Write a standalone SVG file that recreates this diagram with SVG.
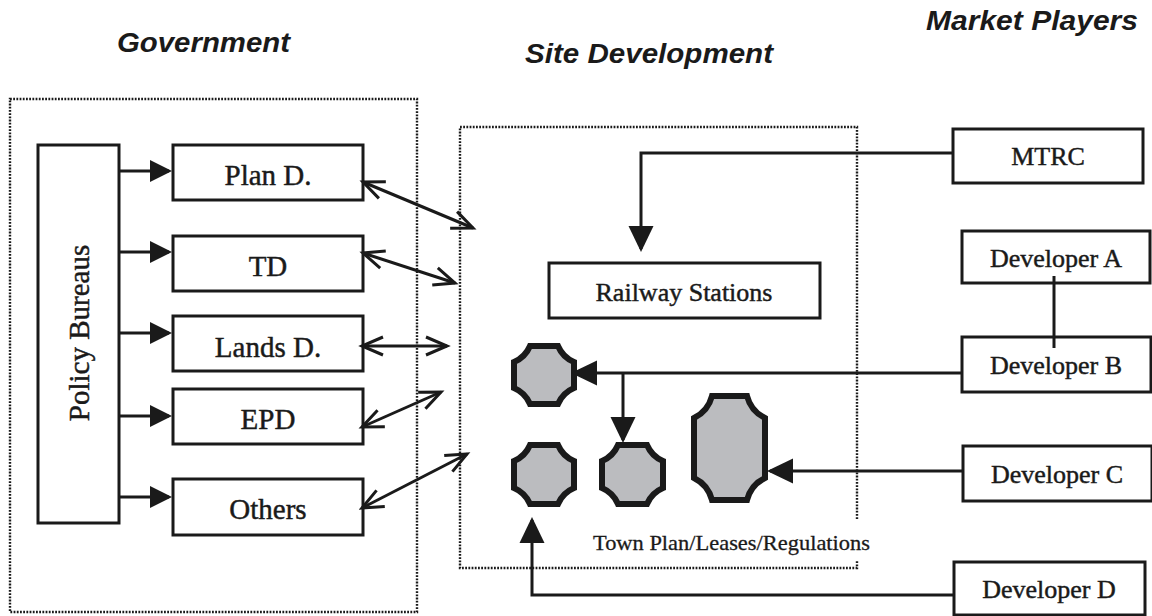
<svg xmlns="http://www.w3.org/2000/svg" width="1152" height="616" viewBox="0 0 1152 616">
  <style>
    .title { font-family: "Liberation Sans", Arial, sans-serif; font-weight: bold; font-style: italic; font-size: 28px; fill: #1a1a1a; }
    .lbl { font-family: "Liberation Serif", "Times New Roman", serif; fill: #1a1a1a; stroke: #1a1a1a; stroke-width: 0.45; text-anchor: middle; }
    .gov { font-size: 29px; }
    .mkt { font-size: 26px; }
    .small { font-size: 22px; stroke-width: 0.3; }
    .box { fill: #ffffff; stroke: #1a1a1a; stroke-width: 3; }
    .zone { fill: none; stroke: #1a1a1a; stroke-width: 2.4; stroke-dasharray: 1.8 1.4; }
    .site { fill: #bbbcbf; stroke: #1a1a1a; stroke-width: 6; stroke-linejoin: miter; }
    .wire { fill: none; stroke: #1a1a1a; stroke-width: 3; }
    .fwd { marker-end: url(#solid); }
    .fwd-s { marker-end: url(#solidSmall); }
    .both { marker-start: url(#open); marker-end: url(#open); }
  </style>
  <defs>
    <marker id="solid" markerUnits="userSpaceOnUse" viewBox="-27 -14 30 28" markerWidth="30" markerHeight="28" refX="-3" refY="0" orient="auto">
      <path d="M-26,-12.5 L0,0 L-26,12.5 Z" fill="#1a1a1a"/>
    </marker>
    <marker id="solidSmall" markerUnits="userSpaceOnUse" viewBox="-24 -12 26 24" markerWidth="26" markerHeight="24" refX="-3" refY="0" orient="auto">
      <path d="M-22,-11 L0,0 L-22,11 Z" fill="#1a1a1a"/>
    </marker>
    <marker id="open" markerUnits="userSpaceOnUse" viewBox="-26 -14 30 28" markerWidth="30" markerHeight="28" refX="0" refY="0" orient="auto-start-reverse">
      <path d="M-21,-9 L0,0 L-21,9" fill="none" stroke="#1a1a1a" stroke-width="3" stroke-linejoin="miter"/>
    </marker>
  </defs>

  <rect width="1152" height="616" fill="#ffffff"/>

  <!-- column headings -->
  <g id="headings">
    <text class="title" x="117" y="52" textLength="173" lengthAdjust="spacingAndGlyphs">Government</text>
    <text class="title" x="525" y="63" textLength="248" lengthAdjust="spacingAndGlyphs">Site Development</text>
    <text class="title" x="926" y="30" textLength="212" lengthAdjust="spacingAndGlyphs">Market Players</text>
  </g>

  <!-- dotted zone outlines -->
  <g id="zones">
    <rect id="government-zone" class="zone" x="10" y="99" width="407" height="513"/>
    <path id="site-zone" class="zone" d="M857,519 V127 H460 V568 H857 V560"/>
  </g>

  <!-- government side -->
  <g id="policy-bureaus">
    <rect class="box" x="38" y="145" width="81" height="378"/>
    <text class="lbl gov" transform="translate(89,333) rotate(-90)">Policy Bureaus</text>
  </g>
  <g id="plan-d">
    <rect class="box" x="173" y="145" width="190" height="55"/>
    <text class="lbl gov" x="268" y="185">Plan D.</text>
  </g>
  <g id="td">
    <rect class="box" x="173" y="236" width="190" height="55"/>
    <text class="lbl gov" x="268" y="276">TD</text>
  </g>
  <g id="lands-d">
    <rect class="box" x="173" y="316" width="190" height="55"/>
    <text class="lbl gov" x="268" y="357">Lands D.</text>
  </g>
  <g id="epd">
    <rect class="box" x="173" y="389" width="190" height="55"/>
    <text class="lbl gov" x="268" y="429">EPD</text>
  </g>
  <g id="others">
    <rect class="box" x="173" y="479" width="190" height="56"/>
    <text class="lbl gov" x="268" y="519">Others</text>
  </g>

  <!-- site development -->
  <g id="railway-stations">
    <rect class="box" x="549" y="263" width="271" height="55"/>
    <text class="lbl mkt" x="684" y="301">Railway Stations</text>
  </g>
  <g id="site-1">
    <path class="site" d="M530,346 H558 A30,30 0 0 0 574,362 V388 A30,30 0 0 0 558,404 H530 A30,30 0 0 0 514,388 V362 A30,30 0 0 0 530,346 Z"/>
  </g>
  <g id="site-2">
    <path class="site" d="M530,445 H558 A30,30 0 0 0 574,461 V488 A30,30 0 0 0 558,504 H530 A30,30 0 0 0 514,488 V461 A30,30 0 0 0 530,445 Z"/>
  </g>
  <g id="site-3">
    <path class="site" d="M618,445 H647 A30,30 0 0 0 663,461 V488 A30,30 0 0 0 647,504 H618 A30,30 0 0 0 602,488 V461 A30,30 0 0 0 618,445 Z"/>
  </g>
  <g id="site-4">
    <path class="site" d="M712,396 H747 A34,34 0 0 0 765,418 V478 A34,34 0 0 0 747,500 H712 A34,34 0 0 0 694,478 V418 A34,34 0 0 0 712,396 Z"/>
  </g>
  <g id="town-plan-label">
    <text class="lbl small" x="593" y="550" textLength="277" lengthAdjust="spacingAndGlyphs" style="text-anchor:start">Town Plan/Leases/Regulations</text>
  </g>

  <!-- market players -->
  <g id="mtrc">
    <rect class="box" x="953" y="129" width="190" height="54"/>
    <text class="lbl mkt" x="1048" y="165">MTRC</text>
  </g>
  <g id="developer-a">
    <rect class="box" x="962" y="231" width="188" height="52"/>
    <text class="lbl mkt" x="1056" y="267">Developer A</text>
  </g>
  <g id="developer-b">
    <rect class="box" x="962" y="337" width="189" height="55"/>
    <text class="lbl mkt" x="1056" y="374">Developer B</text>
  </g>
  <g id="developer-c">
    <rect class="box" x="963" y="446" width="189" height="55"/>
    <text class="lbl mkt" x="1057" y="483">Developer C</text>
  </g>
  <g id="developer-d">
    <rect class="box" x="954" y="562" width="191" height="53"/>
    <text class="lbl mkt" x="1049" y="598">Developer D</text>
  </g>

  <!-- connectors -->
  <g id="connectors">
    <!-- policy bureaus to departments -->
    <line class="wire fwd-s" x1="119" y1="171" x2="169" y2="171"/>
    <line class="wire fwd-s" x1="119" y1="252" x2="169" y2="252"/>
    <line class="wire fwd-s" x1="119" y1="333" x2="169" y2="333"/>
    <line class="wire fwd-s" x1="119" y1="416" x2="169" y2="416"/>
    <line class="wire fwd-s" x1="119" y1="497" x2="169" y2="497"/>

    <!-- departments to site development (two-way) -->
    <line class="wire both" x1="363" y1="182" x2="473" y2="228"/>
    <line class="wire both" x1="363" y1="253" x2="455" y2="283"/>
    <line class="wire both" x1="362" y1="346" x2="447" y2="346"/>
    <line class="wire both" x1="362" y1="427" x2="441" y2="392"/>
    <line class="wire both" x1="362" y1="508" x2="467" y2="454"/>

    <!-- market players to sites -->
    <path class="wire fwd" d="M953,153 H641 V249"/>
    <line class="wire" x1="1054" y1="276" x2="1054" y2="348"/>
    <path class="wire fwd" d="M962,373 H574"/>
    <path class="wire fwd" d="M623,373 V440"/>
    <path class="wire fwd" d="M963,471 H770"/>
    <path class="wire fwd" d="M954,595 H532 V520"/>
  </g>
</svg>
